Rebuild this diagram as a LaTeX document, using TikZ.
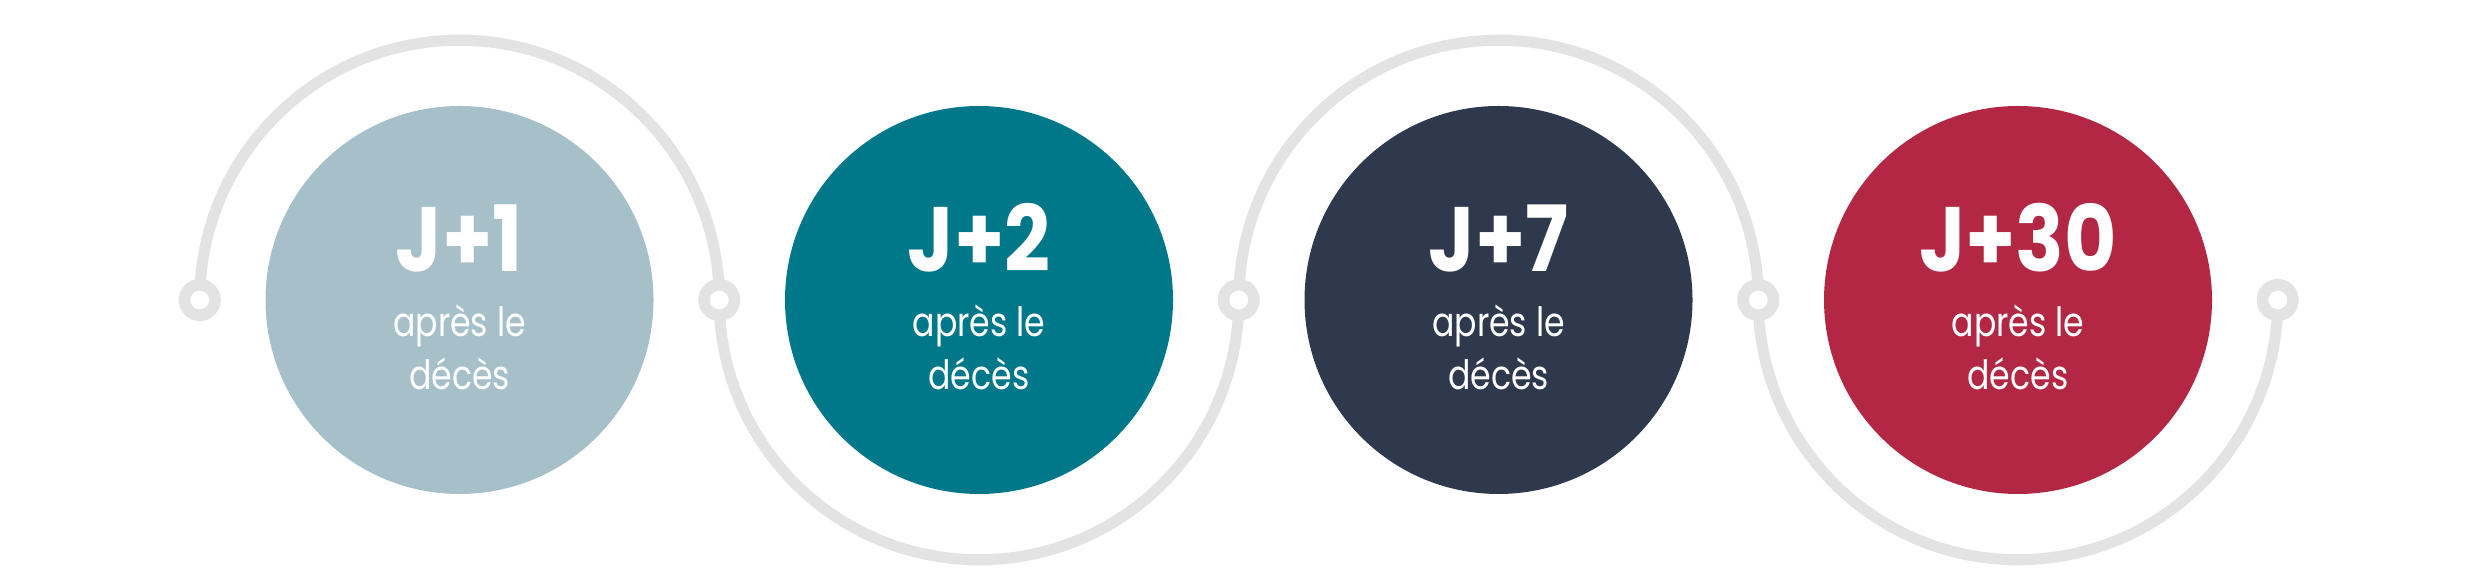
\documentclass[tikz,border=0pt]{standalone}
\usepackage{fontspec}
\setmainfont{Poppins}
\newfontfamily\subfont[FakeStretch=0.82]{Poppins}
\newfontfamily\numfont[FakeStretch=0.88]{Poppins}
\usetikzlibrary{positioning}
\definecolor{trackgray}{HTML}{E3E3E4}
\definecolor{dayone}{HTML}{A6C0CA}
\definecolor{daytwo}{HTML}{00788A}
\definecolor{dayseven}{HTML}{2F394D}
\definecolor{daythirty}{HTML}{B22844}
\tikzset{day/.style={
            circle,
            inner sep=0pt,
            minimum size=3.88cm
        },
        track/.style={
            draw=trackgray,
            line width=3.15pt
        },
        ring/.style={
            circle,
            draw=trackgray,
            fill=white,
            line width=3.3pt,
            inner sep=0pt,
            minimum size=0.305cm
        },
        num/.style={
            anchor=base,
            text=white,
            font=\numfont\fontsize{26}{30}\selectfont\bfseries
        },
        after/.style={
            anchor=base,
            text=white,
            font=\subfont\fontsize{11.5}{14}\selectfont
        }
    }
\begin{document}
\begin{tikzpicture}[line join=round]
\useasboundingbox (0,0) rectangle (24.78,5.81);
\coordinate (p1) at (1.9975,2.81);\coordinate (p2) at (7.1925,2.81);\coordinate (p3) at (12.3875,2.81);
\coordinate (p4) at (17.5825,2.81);\coordinate (p5) at (22.7775,2.81);
% the track, up and down round each circle
\draw[track](p1) arc[start angle=180,end angle=0,radius=2.5975]
    arc[start angle=180,end angle=360,radius=2.5975]
    arc[start angle=180,end angle=0,radius=2.5975]
    arc[start angle=180,end angle=360,radius=2.5975];
\node[ring] (m1) at (p1) {};\node[ring] (m2) at (p2) {};\node[ring] (m3) at (p3) {};
\node[ring] (m4) at (p4) {};\node[ring] (m5) at (p5) {};
\node[day,fill=dayone] (d1) at (4.595,2.81) {};
\node[day,fill=daytwo] (d2) at (9.79,2.81) {};
\node[day,fill=dayseven] (d3) at (14.985,2.81) {};
\node[day,fill=daythirty] (d4) at (20.18,2.81) {};
\node[num] (n1) at ([yshift=.28cm]d1.center) {J+1};
\node[after] (a1) at ([yshift=-.37cm]d1.center) {après le};
\node[after] (b1) at ([yshift=-.9cm]d1.center) {décès};
\node[num] (n2) at ([yshift=.28cm]d2.center) {J+2};
\node[after] (a2) at ([yshift=-.37cm]d2.center) {après le};
\node[after] (b2) at ([yshift=-.9cm]d2.center) {décès};
\node[num] (n3) at ([yshift=.28cm]d3.center) {J+7};
\node[after] (a3) at ([yshift=-.37cm]d3.center) {après le};
\node[after] (b3) at ([yshift=-.9cm]d3.center) {décès};
\node[num] (n4) at ([yshift=.28cm]d4.center) {J+30};
\node[after] (a4) at ([yshift=-.37cm]d4.center) {après le};
\node[after] (b4) at ([yshift=-.9cm]d4.center) {décès};
\end{tikzpicture}
\end{document}
